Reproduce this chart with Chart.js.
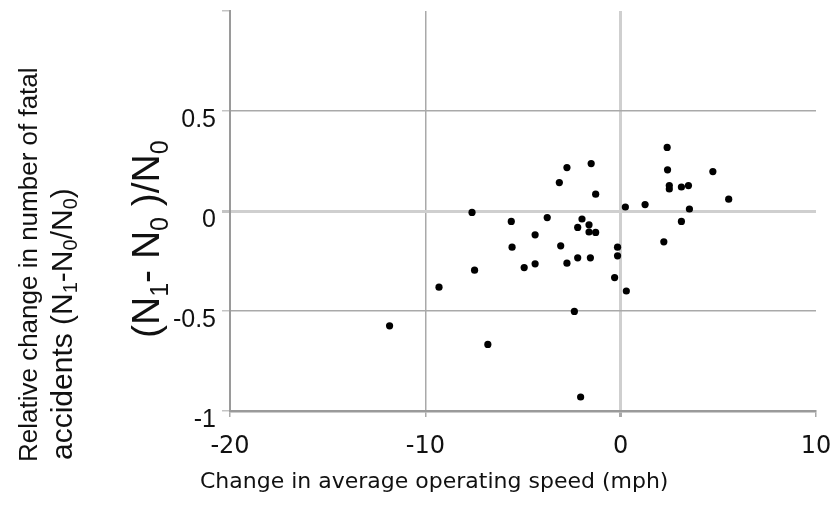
<!DOCTYPE html>
<html>
<head>
<meta charset="utf-8">
<script src="https://cdn.jsdelivr.net/npm/chart.js@4.4.1/dist/chart.umd.min.js"></script>
<style>
  html, body { margin: 0; padding: 0; background: #fff; }
  #wrap { width: 830px; height: 505px; position: relative; }
</style>
</head>
<body>
<div id="wrap"><canvas id="chart"></canvas></div>
<script>
/* Speed change vs. relative change in fatal accidents — scatter */

// ── DATA ───────────────────────────────────────────────────────
// x: change in average operating speed (mph)
const SPEED_CHANGE = [
  -11.83, -9.30, -7.61, -7.48, -6.80, -5.60, -5.56, -4.94, -4.38, -4.38,
  -3.76, -3.14, -3.07, -2.75, -2.75, -2.37, -2.20, -2.20, -2.05, -1.98,
  -1.62, -1.62, -1.55, -1.51, -1.28, -1.28, -0.31, -0.16, -0.16, 0.24,
  0.29, 1.25, 2.21, 2.38, 2.40, 2.49, 2.49, 3.11, 3.11, 3.47,
  3.52, 4.72, 5.53,
];
// y: (N1 - N0) / N0
const ACCIDENT_CHANGE = [
  -0.574, -0.381, -0.007, -0.296, -0.667, -0.052, -0.181, -0.283, -0.119, -0.264,
  -0.033, 0.142, -0.174, 0.217, -0.261, -0.502, -0.082, -0.234, -0.930, -0.040,
  -0.069, -0.105, -0.234, 0.237, -0.107, 0.084, -0.333, -0.181, -0.224, 0.020,
  -0.400, 0.032, -0.154, 0.318, 0.206, 0.127, 0.110, -0.052, 0.120, 0.127,
  0.010, 0.197, 0.059,
];

const X_TICKS = [-20, -10, 0, 10];
const X_TICK_LABELS = ['-20', '-10', '0', '10'];
const Y_TICKS = [-1, -0.5, 0, 0.5, 1];
const Y_TICK_LABELS = ['-1', '-0.5', '0', '0.5', ''];

const X_TITLE = 'Change in average operating speed (mph)';
const OUTER_Y_TITLE = 'Relative change in number of fatal';

// ── STYLE ──────────────────────────────────────────────────────
const GRID_DARK  = '#a9a9a9';
const GRID_LIGHT = '#cfcfcf';
const AXIS_COLOR = '#9a9a9a';
const TEXT_COLOR = '#111';

// ── TITLES (drawn as text, with real subscripts) ──────────────
// each run: [text, isSubscript]
function drawRuns(ctx, runs, x, y, size, subSize, subShift, family) {
  ctx.save();
  ctx.translate(x, y);
  ctx.rotate(-Math.PI / 2);
  ctx.fillStyle = TEXT_COLOR;
  ctx.textAlign = 'left';
  ctx.textBaseline = 'alphabetic';
  let cx = 0;
  runs.forEach(([t, sub]) => {
    ctx.font = `${sub ? subSize : size}px ${family}`;
    ctx.fillText(t, cx, sub ? subShift : 0);
    cx += ctx.measureText(t).width;
  });
  ctx.restore();
}

const titlesPlugin = {
  id: 'titles',
  afterDraw(chart) {
    const ctx = chart.ctx;
    const ARIAL = '"Liberation Sans", Arial, sans-serif';

    // outer two-line label
    drawRuns(ctx, [[OUTER_Y_TITLE, false]], 37, 462, 26, 18, 5, ARIAL);
    drawRuns(ctx, [['accidents (N', false], ['1', true], ['-N', false], ['0', true],
                   ['/N', false], ['0', true], [')', false]], 72, 460, 30, 20, 5, ARIAL);

    // inner formula label
    drawRuns(ctx, [['(N', false], ['1', true], ['- N', false], ['0', true],
                   [' )/N', false], ['0', true]], 159, 338, 39, 25, 9, ARIAL);

    // x title
    ctx.save();
    ctx.fillStyle = TEXT_COLOR;
    ctx.font = '22px "DejaVu Sans", Tahoma, sans-serif';
    ctx.textAlign = 'left';
    ctx.textBaseline = 'alphabetic';
    ctx.fillText(X_TITLE, 200, 488);
    ctx.restore();
  },
};

// ── CHART ──────────────────────────────────────────────────────
new Chart(document.getElementById('chart').getContext('2d'), {
  type: 'scatter',
  data: {
    datasets: [{
      data: SPEED_CHANGE.map((x, i) => ({ x, y: ACCIDENT_CHANGE[i] })),
      pointStyle: 'circle',
      pointRadius: 3.6,
      pointHoverRadius: 3.6,
      backgroundColor: '#000',
      borderWidth: 0,
    }],
  },
  options: {
    responsive: true,
    maintainAspectRatio: false,
    animation: false,
    layout: { padding: { top: 11, right: 14, bottom: 0, left: 0 } },
    plugins: { legend: { display: false }, tooltip: { enabled: false } },
    scales: {
      x: {
        type: 'linear',
        min: -20, max: 10,
        afterBuildTicks: s => { s.ticks = X_TICKS.map(v => ({ value: v })); },
        afterFit: s => { s.height = 94; s.paddingLeft = 0; s.paddingRight = 0; },
        ticks: {
          color: TEXT_COLOR,
          font: { family: '"DejaVu Sans", Tahoma, sans-serif', size: 24 },
          padding: 15,
          maxRotation: 0,
          callback: v => X_TICK_LABELS[X_TICKS.indexOf(v)],
        },
        grid: {
          color: c => c.tick && c.tick.value === 0 ? GRID_LIGHT
                    : c.tick && c.tick.value === -10 ? GRID_DARK : 'rgba(0,0,0,0)',
          lineWidth: c => c.tick && c.tick.value === 0 ? 3 : 1.5,
          tickColor: GRID_DARK,
          tickLength: 6,
        },
        border: { color: AXIS_COLOR, width: 2.5 },
      },
      y: {
        type: 'linear',
        min: -1, max: 1,
        afterBuildTicks: s => { s.ticks = Y_TICKS.map(v => ({ value: v })); },
        afterFit: s => { s.width = 230; s.paddingTop = 0; s.paddingBottom = 0; },
        ticks: {
          color: TEXT_COLOR,
          font: { family: '"Liberation Sans", Arial, sans-serif', size: 25 },
          padding: 6,
          labelOffset: 9,
          callback: v => Y_TICK_LABELS[Y_TICKS.indexOf(v)],
        },
        grid: {
          color: c => c.tick && c.tick.value === 0 ? GRID_LIGHT
                    : c.tick && Math.abs(c.tick.value) === 0.5 ? GRID_DARK : 'rgba(0,0,0,0)',
          lineWidth: c => c.tick && c.tick.value === 0 ? 3 : 1.5,
          tickColor: '#c4c4c4',
          tickLength: 8,
        },
        border: { color: AXIS_COLOR, width: 2 },
      },
    },
  },
  plugins: [titlesPlugin],
});
</script>
</body>
</html>
